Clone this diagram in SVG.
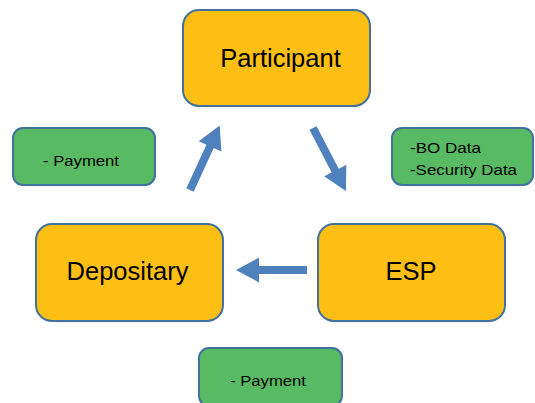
<svg xmlns="http://www.w3.org/2000/svg" width="535" height="403" viewBox="0 0 535 403">
<style>
.main{fill:#FDBF13;stroke:#41719C;stroke-width:2}
.note{fill:#58BB63;stroke:#41719C;stroke-width:2}
.big{font-family:"Liberation Sans",Arial,sans-serif;font-size:25.5px;fill:#000;text-anchor:middle}
.small{font-family:"Liberation Sans",Arial,sans-serif;font-size:15.5px;fill:#000}
.arrow{fill:#4F81BD}
</style>
<defs>
<polygon id="arr" points="0,-4 48,-4 48,-12.5 71,0 48,12.5 48,4 0,4"/>
</defs>
<rect width="535" height="403" fill="#fff"/>
<g id="participant"><rect class="main" x="183" y="10" width="187" height="96" rx="16"/><text class="big" x="280.5" y="67">Participant</text></g>
<g id="depositary"><rect class="main" x="36" y="224" width="187" height="97" rx="16"/><text class="big" x="127.5" y="280">Depositary</text></g>
<g id="esp"><rect class="main" x="318" y="224" width="187" height="97" rx="16"/><text class="big" x="411" y="280">ESP</text></g>
<g id="note-payment-left"><rect class="note" x="13" y="128" width="142" height="57" rx="10"/><text class="small" x="43" y="166" textLength="76" lengthAdjust="spacingAndGlyphs">- Payment</text></g>
<g id="note-data"><rect class="note" x="392" y="128" width="141" height="57" rx="10"/><text class="small" x="410" y="153" textLength="71" lengthAdjust="spacingAndGlyphs">-BO Data</text><text class="small" x="410" y="175" textLength="107" lengthAdjust="spacingAndGlyphs">-Security Data</text></g>
<g id="note-payment-bottom"><rect class="note" x="199" y="348" width="143" height="58" rx="10"/><text class="small" x="230" y="386" textLength="76" lengthAdjust="spacingAndGlyphs">- Payment</text></g>
<g id="connectors" class="arrow">
<use href="#arr" transform="translate(190,190) rotate(-65.3)"/>
<use href="#arr" transform="translate(313,128) rotate(62.4)"/>
<use href="#arr" transform="translate(307,270) rotate(180)"/>
</g>
</svg>
